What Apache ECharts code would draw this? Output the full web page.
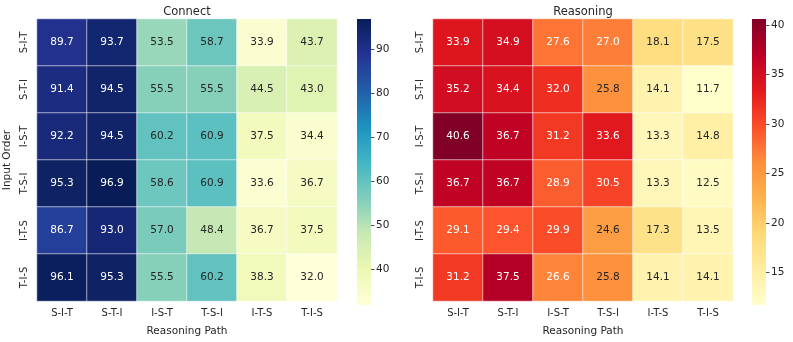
<!DOCTYPE html>
<html>
<head>
<meta charset="utf-8">
<script src="https://cdn.jsdelivr.net/npm/echarts@6/dist/echarts.min.js"></script>
<style>
  html, body { margin: 0; padding: 0; background: #fff; }
  #chart { width: 793px; height: 342px; }
</style>
</head>
<body>
<div id="chart"></div>
<script>
const inputOrders = ['S-I-T', 'S-T-I', 'I-S-T', 'T-S-I', 'I-T-S', 'T-I-S'];
const reasoningPaths = ['S-I-T', 'S-T-I', 'I-S-T', 'T-S-I', 'I-T-S', 'T-I-S'];

// rows = input order, cols = reasoning path
const connectValues = [
  [89.7, 93.7, 53.5, 58.7, 33.9, 43.7],
  [91.4, 94.5, 55.5, 55.5, 44.5, 43.0],
  [92.2, 94.5, 60.2, 60.9, 37.5, 34.4],
  [95.3, 96.9, 58.6, 60.9, 33.6, 36.7],
  [86.7, 93.0, 57.0, 48.4, 36.7, 37.5],
  [96.1, 95.3, 55.5, 60.2, 38.3, 32.0]
];
const reasoningValues = [
  [33.9, 34.9, 27.6, 27.0, 18.1, 17.5],
  [35.2, 34.4, 32.0, 25.8, 14.1, 11.7],
  [40.6, 36.7, 31.2, 33.6, 13.3, 14.8],
  [36.7, 36.7, 28.9, 30.5, 13.3, 12.5],
  [29.1, 29.4, 29.9, 24.6, 17.3, 13.5],
  [31.2, 37.5, 26.6, 25.8, 14.1, 14.1]
];

const connectTicks = [40, 50, 60, 70, 80, 90];
const reasoningTicks = [15, 20, 25, 30, 35, 40];

const YlGnBu = ['#ffffd9', '#edf8b1', '#c7e9b4', '#7fcdbb', '#41b6c4', '#1d91c0', '#225ea8', '#253494', '#081d58'];
const YlOrRd = ['#ffffcc', '#ffeda0', '#fed976', '#feb24c', '#fd8d3c', '#fc4e2a', '#e31a1c', '#bd0026', '#800026'];

const FONT = 'DejaVu Sans';
const DARK = '#262626';

const flatMin = (m) => Math.min(...m.flat());
const flatMax = (m) => Math.max(...m.flat());

const toCells = (matrix, whiteAbove) => {
  const out = [];
  matrix.forEach((row, r) => {
    row.forEach((v, c) => {
      out.push({
        value: [c, r, v],
        label: { color: v > whiteAbove ? '#ffffff' : DARK }
      });
    });
  });
  return out;
};

const heatGrid = (left) => ({ left: left, top: 19, width: 300, height: 286 });
const barGrid = (left) => ({ left: left, top: 19, width: 14, height: 286 });

const catX = (gridIndex) => ({
  type: 'category',
  gridIndex: gridIndex,
  data: reasoningPaths,
  name: 'Reasoning Path',
  nameLocation: 'middle',
  nameGap: 25,
  nameTextStyle: { fontFamily: FONT, fontSize: 10.5, color: DARK },
  axisLine: { show: false },
  axisTick: { show: false },
  splitLine: { show: false },
  axisLabel: { fontFamily: FONT, fontSize: 10, color: DARK, margin: 7 }
});

const catY = (gridIndex, withName) => ({
  type: 'category',
  gridIndex: gridIndex,
  data: inputOrders,
  inverse: true,
  name: withName ? 'Input Order' : '',
  nameLocation: 'middle',
  nameGap: 24,
  nameTextStyle: { fontFamily: FONT, fontSize: 10.5, color: DARK },
  axisLine: { show: false },
  axisTick: { show: false },
  splitLine: { show: false },
  axisLabel: { fontFamily: FONT, fontSize: 10, color: DARK, rotate: 90, margin: 8 }
});

const barX = (gridIndex) => ({
  type: 'category', gridIndex: gridIndex, data: [''], show: false
});

const barY = (gridIndex, min, max, ticks) => ({
  type: 'value',
  gridIndex: gridIndex,
  min: min,
  max: max,
  position: 'right',
  axisLine: { show: false },
  splitLine: { show: false },
  axisTick: { show: true, length: 3.5, customValues: ticks, lineStyle: { color: DARK, width: 0.8 } },
  axisLabel: { fontFamily: FONT, fontSize: 10.5, color: DARK, margin: 5, customValues: ticks }
});

const cMin = flatMin(connectValues), cMax = flatMax(connectValues);
const rMin = flatMin(reasoningValues), rMax = flatMax(reasoningValues);

const heatSeries = (idx, matrix, whiteAbove) => ({
  type: 'heatmap',
  xAxisIndex: idx,
  yAxisIndex: idx,
  data: toCells(matrix, whiteAbove),
  label: {
    show: true,
    fontFamily: FONT,
    fontSize: 10.5,
    formatter: (p) => p.value[2].toFixed(1)
  },
  itemStyle: { borderColor: 'rgba(255,255,255,0.7)', borderWidth: 0.8 },
  emphasis: { disabled: true }
});

// colorbar: gradient rect filling the small grid, top = max colour
const colorbarSeries = (idx, colors) => ({
  type: 'custom',
  xAxisIndex: idx,
  yAxisIndex: idx,
  silent: true,
  data: [0],
  renderItem: (params, api) => {
    const cs = params.coordSys;
    const stops = colors.map((c, i) => ({ offset: 1 - i / (colors.length - 1), color: c }));
    stops.reverse();
    return {
      type: 'rect',
      shape: { x: cs.x, y: cs.y, width: cs.width, height: cs.height },
      style: { fill: new echarts.graphic.LinearGradient(0, 0, 0, 1, stops) }
    };
  }
});

const chart = echarts.init(document.getElementById('chart'), null, { renderer: 'canvas' });

chart.setOption({
  animation: false,
  backgroundColor: '#ffffff',
  title: [
    { text: 'Connect', left: 187, top: 6, padding: 0, textAlign: 'center',
      textStyle: { fontFamily: FONT, fontSize: 11.5, fontWeight: 'normal', color: DARK } },
    { text: 'Reasoning', left: 583, top: 6, padding: 0, textAlign: 'center',
      textStyle: { fontFamily: FONT, fontSize: 11.5, fontWeight: 'normal', color: DARK } }
  ],
  grid: [heatGrid(37), barGrid(357), heatGrid(433), barGrid(752)],
  xAxis: [catX(0), barX(1), catX(2), barX(3)],
  yAxis: [catY(0, true), barY(1, cMin, cMax, connectTicks), catY(2, false), barY(3, rMin, rMax, reasoningTicks)],
  visualMap: [
    { type: 'continuous', show: false, seriesIndex: 0, min: cMin, max: cMax, inRange: { color: YlGnBu } },
    { type: 'continuous', show: false, seriesIndex: 1, min: rMin, max: rMax, inRange: { color: YlOrRd } }
  ],
  series: [
    heatSeries(0, connectValues, 70),
    heatSeries(2, reasoningValues, 26),
    colorbarSeries(1, YlGnBu),
    colorbarSeries(3, YlOrRd)
  ]
});
</script>
</body>
</html>
